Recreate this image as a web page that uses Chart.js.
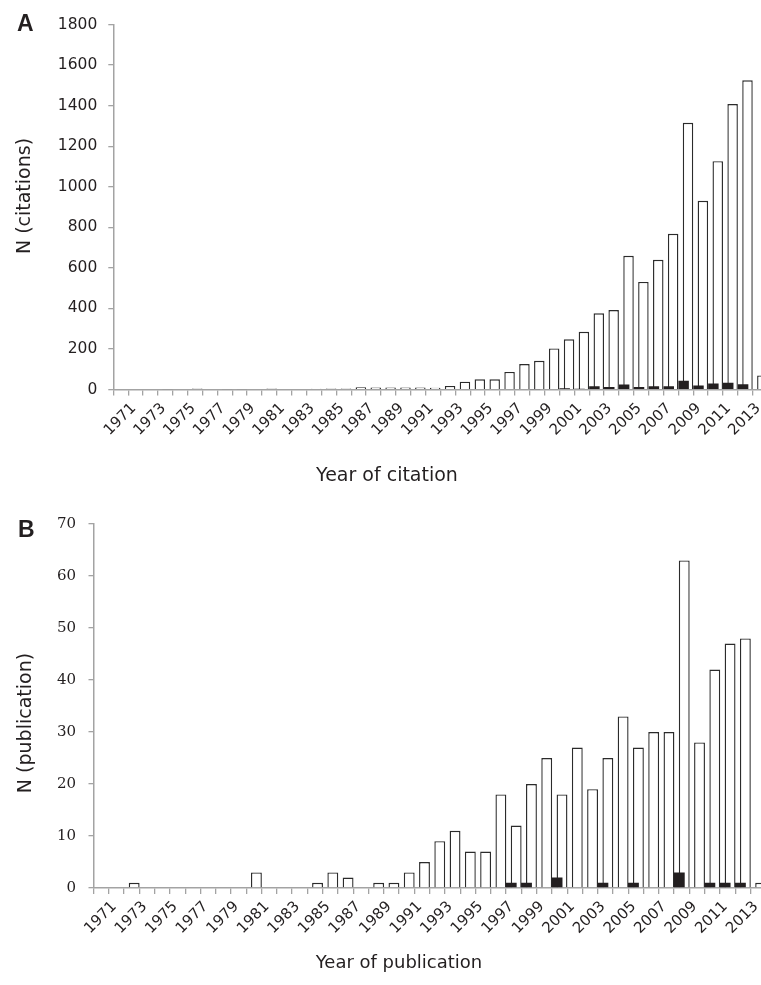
<!DOCTYPE html>
<html><head><meta charset="utf-8">
<script src="https://cdn.jsdelivr.net/npm/chart.js@4.4.0/dist/chart.umd.min.js"></script>
<style>
html,body{margin:0;padding:0;background:#fff;overflow:hidden;width:761px;height:985px;}
.wrap{position:absolute;left:0;}
.lab{position:absolute;font-family:'Liberation Sans',Arial,sans-serif;font-weight:bold;font-size:23px;line-height:1;color:#231f20;}
.xt{position:absolute;text-align:center;font-family:'DejaVu Sans',sans-serif;line-height:1;color:#231f20;white-space:nowrap;}
.yt{position:absolute;width:240px;height:20px;text-align:center;font-family:'DejaVu Sans',sans-serif;font-size:19px;line-height:20px;color:#231f20;white-space:nowrap;transform:rotate(-90deg);}
</style></head>
<body>
<div class="wrap" style="top:0"><canvas id="cA" width="780" height="490" style="width:780px;height:490px"></canvas></div>
<div class="wrap" style="top:490px"><canvas id="cB" width="780" height="495" style="width:780px;height:495px"></canvas></div>
<div class="lab" style="left:17px;top:12px">A</div>
<div class="lab" style="left:18px;top:518px">B</div>
<div class="xt" style="left:0;width:774px;top:465px;font-size:19px">Year of citation</div>
<div class="xt" style="left:0;width:798px;top:953px;font-size:18px">Year of publication</div>
<div class="yt" style="left:-97px;top:185.5px">N (citations)</div>
<div class="yt" style="left:-96px;top:713px">N (publication)</div>
<script>
const years = ['1971','1972','1973','1974','1975','1976','1977','1978','1979','1980',
  '1981','1982','1983','1984','1985','1986','1987','1988','1989','1990',
  '1991','1992','1993','1994','1995','1996','1997','1998','1999','2000',
  '2001','2002','2003','2004','2005','2006','2007','2008','2009','2010',
  '2011','2012','2013','2014'];

// Panel A: citations per year (all = white bars, subset = black bars)
const citationsAll = [0,0,0,2,3,6,0,2,2,0,
  6,3,3,4,5,5,12,10,10,10,
  10,9,18,39,51,51,87,126,142,203,
  248,285,376,392,660,531,640,768,1315,931,
  1126,1408,1525,70];
const citationsSub = [0,0,0,0,0,0,0,0,0,0,
  0,0,0,0,0,0,0,0,0,0,
  0,0,0,0,0,0,0,0,2,3,
  7,4,16,13,25,13,16,16,44,20,
  30,34,26,0];

// Panel B: publications per year
const pubsAll = [0,0,1,0,0,0,0,0,0,0,
  3,0,0,0,1,3,2,0,1,1,
  3,5,9,11,7,7,18,12,20,25,
  18,27,19,25,33,27,30,30,63,28,
  42,47,48,1];
const pubsSub = [0,0,0,0,0,0,0,0,0,0,
  0,0,0,0,0,0,0,0,0,0,
  0,0,0,0,0,0,0,1,1,0,
  2,0,0,1,0,1,0,0,3,0,
  1,1,1,0];

const yTicksA = {min:0, max:1800, step:200};
const yTicksB = {min:0, max:70, step:10};

const INK = '#231f20';
const AXIS = '#a3a3a3';

function makeChart(id, opt) {
  const ctx = document.getElementById(id);
  return new Chart(ctx, {
    type: 'bar',
    data: {
      labels: years,
      datasets: [
        {data: opt.sub, backgroundColor: INK, borderColor: INK, borderWidth: 0,
         categoryPercentage: opt.cat, barPercentage: opt.bar},
        {data: opt.all, backgroundColor: '#ffffff', borderColor: '#2b2b2b', borderWidth: 1.4,
         categoryPercentage: opt.cat, barPercentage: opt.bar}
      ]
    },
    options: {
      responsive: false,
      animation: false,
      devicePixelRatio: 1,
      layout: {padding: {left: 0, top: opt.top, right: opt.right, bottom: 0}},
      plugins: {legend: {display: false}, tooltip: {enabled: false}},
      scales: {
        x: {
          type: 'category',
          offset: true,
          grid: {offset: true, drawOnChartArea: false, drawTicks: true, tickLength: 6, color: AXIS, lineWidth: 1.3},
          border: {display: true, color: AXIS, width: 1.5},
          ticks: {
            autoSkip: false, maxRotation: 45, minRotation: 45, padding: opt.xPad,
            labelOffset: opt.xLabOff,
            color: INK, font: {family: opt.xFont, size: opt.xSize},
            callback: function(v, i) { return i % 2 === 0 ? this.getLabelForValue(v) : ''; }
          },
          afterFit: s => { s.height = opt.xH; }
        },
        y: {
          min: opt.y.min, max: opt.y.max,
          grid: {drawOnChartArea: false, drawTicks: true, tickLength: 5, color: AXIS, lineWidth: 1.3},
          border: {display: true, color: AXIS, width: 1.5},
          ticks: {stepSize: opt.y.step, padding: opt.yPad, color: INK,
                  font: {family: opt.yFont, size: opt.ySize},
                  callback: v => String(v)},
          afterFit: s => { s.width = opt.yW; }
        }
      }
    }
  });
}

makeChart('cA', {
  all: citationsAll, sub: citationsSub, y: yTicksA,
  cat: 0.59, bar: 2.39, top: 24.5, right: 780 - 767.6,
  yW: 113.3, xH: 490 - 389.6,
  xPad: 4, xLabOff: 13, xFont: "'DejaVu Sans', sans-serif", xSize: 15,
  yFont: "'DejaVu Sans', sans-serif", ySize: 15.5, yPad: 11
});

makeChart('cB', {
  all: pubsAll, sub: pubsSub, y: yTicksB,
  cat: 0.65, bar: 2.19, top: 34, right: 780 - 765.8,
  yW: 93.5, xH: 495 - 398,
  xPad: 4, xLabOff: 13, xFont: "'DejaVu Sans', sans-serif", xSize: 15,
  yFont: "'DejaVu Serif', serif", ySize: 15, yPad: 12.5
});
</script>
</body></html>
